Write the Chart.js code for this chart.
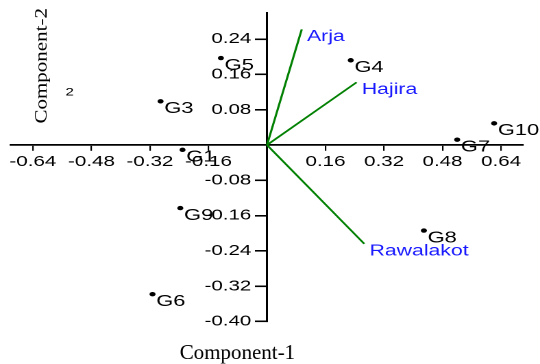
<!DOCTYPE html>
<html>
<head>
<meta charset="utf-8">
<script src="https://cdn.jsdelivr.net/npm/chart.js@4/dist/chart.umd.min.js"></script>
<style>
  html, body { margin: 0; padding: 0; background: #fff; overflow: hidden; }
  #wrap { width: 394px; height: 364px; transform: scaleX(1.370558); transform-origin: 0 0; }
</style>
</head>
<body>
<div id="wrap"><canvas id="c" width="394" height="364"></canvas></div>
<script>
// Genotype scores on the first two principal components
const genotypes = ['G1', 'G3', 'G4', 'G5', 'G6', 'G7', 'G8', 'G9', 'G10'];
const scoreX = [-0.231, -0.291, 0.229, -0.126, -0.313, 0.520, 0.429, -0.237, 0.621];
const scoreY = [-0.011, 0.099, 0.192, 0.197, -0.338, 0.012, -0.194, -0.143, 0.049];

// Location loadings (biplot vectors)
const locations = ['Arja', 'Hajira', 'Rawalakot'];
const loadingX = [0.095, 0.245, 0.266];
const loadingY = [0.262, 0.142, -0.224];

// Tick values
const xTicks = [-0.64, -0.48, -0.32, -0.16, 0.16, 0.32, 0.48, 0.64];
const yTicks = [0.24, 0.16, 0.08, -0.08, -0.16, -0.24, -0.32, -0.40];

const STRETCH = 540 / 394;
const SANS = '"Liberation Sans", Arial, sans-serif';
const SERIF = '"Liberation Serif", "Times New Roman", serif';
const GREEN = 'rgb(0,128,0)';
const BLUE = 'rgb(25,25,255)';

const datasets = [{
  label: 'Genotypes',
  data: genotypes.map((g, i) => ({ x: scoreX[i], y: scoreY[i] })),
  backgroundColor: '#000',
  borderWidth: 0,
  pointRadius: 2.2,
  pointHoverRadius: 2.2
}];
locations.forEach((name, i) => {
  datasets.push({
    label: name,
    data: [{ x: 0, y: 0 }, { x: loadingX[i], y: loadingY[i] }],
    showLine: true,
    borderColor: GREEN,
    borderWidth: 1.6,
    pointRadius: 0,
    pointHoverRadius: 0
  });
});

const labelPlugin = {
  id: 'biplotText',
  afterDatasetsDraw(chart) {
    const ctx = chart.ctx;
    ctx.save();
    ctx.textAlign = 'left';
    ctx.textBaseline = 'middle';

    // genotype names beside their points
    ctx.fillStyle = '#000';
    ctx.font = '16px ' + SANS;
    const pts = chart.getDatasetMeta(0).data;
    genotypes.forEach((g, i) => {
      ctx.fillText(g, pts[i].x + 2.7, pts[i].y + 7.4);
    });

    // location names at the tips of the vectors
    ctx.fillStyle = BLUE;
    ctx.font = '15.5px ' + SANS;
    locations.forEach((name, i) => {
      const tip = chart.getDatasetMeta(i + 1).data[1];
      ctx.fillText(name, tip.x + 3.8, tip.y + 7.5);
    });

    // leftover "2" tag near the top-left
    ctx.fillStyle = '#000';
    ctx.font = '11px ' + SANS;
    ctx.textAlign = 'center';
    ctx.fillText('2', 50.8, 92.5);
    ctx.restore();

    // axis titles, drawn without the horizontal stretch
    ctx.save();
    ctx.fillStyle = '#000';
    ctx.font = '21px ' + SERIF;
    ctx.textAlign = 'center';
    ctx.textBaseline = 'alphabetic';
    ctx.translate(173.2, 359);
    ctx.scale(1 / STRETCH, 1);
    ctx.fillText('Component-1', 0, 0);
    ctx.restore();

    ctx.save();
    ctx.fillStyle = '#000';
    ctx.font = '21px ' + SERIF;
    ctx.textAlign = 'center';
    ctx.textBaseline = 'alphabetic';
    ctx.translate(34.1, 65.8);
    ctx.scale(0.8 / STRETCH, 1);
    ctx.rotate(-Math.PI / 2);
    ctx.fillText('Component-2', 0, 0);
    ctx.restore();
  }
};

const fmt = v => Number(v).toFixed(2);

// Labels of an axis that crosses at x = 0 sit flush on the line; shift them
// left past the tick marks.
function offsetYLabels(scale) {
  if (scale._shifted) return;
  scale._shifted = true;
  const base = scale._computeLabelItems;
  scale._computeLabelItems = function (area) {
    const items = base.call(this, area);
    const shift = this.options.grid.tickLength + this.options.ticks.padding;
    items.forEach(it => { it.options.translation[0] -= shift; });
    return items;
  };
}

new Chart(document.getElementById('c'), {
  type: 'scatter',
  data: { datasets },
  plugins: [labelPlugin],
  options: {
    responsive: false,
    animation: false,
    devicePixelRatio: 2,
    events: [],
    layout: { padding: { left: 8, right: 12.4, top: 12.6, bottom: 42.5 } },
    plugins: { legend: { display: false }, tooltip: { enabled: false } },
    scales: {
      x: {
        type: 'linear',
        min: -0.70,
        max: 0.70,
        position: { y: 0 },
        afterBuildTicks: s => { s.ticks = xTicks.map(v => ({ value: v })); },
        grid: { display: true, drawOnChartArea: false, drawTicks: true, tickLength: 5, color: '#000', lineWidth: 1.1 },
        border: { display: true, color: '#000', width: 1.8 },
        ticks: { autoSkip: false, maxRotation: 0, padding: 3, color: '#000', font: { family: SANS, size: 15 }, callback: fmt }
      },
      y: {
        type: 'linear',
        min: -0.40,
        max: 0.30,
        position: { x: 0 },
        afterBuildTicks: s => { s.ticks = yTicks.map(v => ({ value: v })); },
        afterUpdate: offsetYLabels,
        grid: { display: true, drawOnChartArea: false, drawTicks: true, tickLength: 8, color: '#000', lineWidth: 1.6 },
        border: { display: true, color: '#000', width: 1.5 },
        ticks: { autoSkip: false, padding: 3.4, color: '#000', font: { family: SANS, size: 15 }, callback: fmt }
      }
    }
  }
});
</script>
</body>
</html>
